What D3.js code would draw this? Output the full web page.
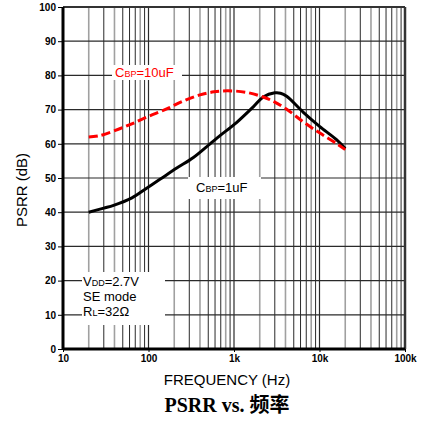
<!DOCTYPE html>
<html><head><meta charset="utf-8">
<script src="https://cdn.jsdelivr.net/npm/d3@7"></script>
<style>body{margin:0;background:#fff}svg{display:block}</style>
</head><body>
<svg id="c" width="428" height="429"></svg>
<script>
// Data
const freq10uF = [20, 27, 46, 66, 100, 163, 250, 400, 583, 850, 1430, 2240, 3000, 4130, 6470, 10000, 15800, 20000];
const psrr10uF = [62.0, 62.4, 64.4, 66.0, 68.0, 70.2, 72.4, 74.3, 75.2, 75.5, 75.0, 73.6, 72.2, 70.1, 66.4, 63.2, 60.1, 58.3];
const freq1uF = [20, 30, 39, 64, 95, 136, 214, 335, 525, 686, 1070, 1680, 2200, 3000, 3500, 4130, 6470, 10000, 15800, 20000];
const psrr1uF = [40.0, 41.2, 42.0, 44.2, 47.0, 49.6, 52.9, 56.0, 60.0, 62.4, 66.2, 70.8, 73.7, 74.9, 74.8, 73.9, 69.2, 65.1, 61.2, 58.6];
const yTicks = [0, 10, 20, 30, 40, 50, 60, 70, 80, 90, 100];
const xTicks = [10, 100, 1000, 10000, 100000];
const xTickLabels = ["10", "100", "1k", "10k", "100k"];

const svg = d3.select("#c");
const L = 63, R = 405, T = 7, B = 349;
const x = d3.scaleLog().domain([10, 100000]).range([L, R]);
const y = d3.scaleLinear().domain([0, 100]).range([B, T]);

// minor grid
const minors = [];
for (let d = 10; d < 100000; d *= 10) for (let m = 2; m <= 9; m++) minors.push({f: d * m, m});
const grid = svg.append("g");
const isGray = m => m === 2 || m === 4 || m === 8;
grid.selectAll(".vmin").data(minors).join("line")
  .attr("x1", d => x(d.f)).attr("x2", d => x(d.f)).attr("y1", T).attr("y2", B)
  .attr("stroke", d => isGray(d.m) ? "#a0a0a0" : "#2a2a2a")
  .attr("stroke-width", d => isGray(d.m) ? 1.6 : 1);
grid.selectAll(".vmaj").data(xTicks).join("line")
  .attr("x1", d => x(d)).attr("x2", d => x(d)).attr("y1", T).attr("y2", B)
  .attr("stroke", "#2a2a2a").attr("stroke-width", 1.2);
grid.selectAll(".h").data(yTicks).join("line")
  .attr("x1", L).attr("x2", R).attr("y1", d => y(d)).attr("y2", d => y(d))
  .attr("stroke", "#2a2a2a").attr("stroke-width", 1.2);

// frame
svg.append("line").attr("x1", L).attr("x2", R).attr("y1", T).attr("y2", T).attr("stroke", "#333").attr("stroke-width", 2);
svg.append("line").attr("x1", R).attr("x2", R).attr("y1", T).attr("y2", B).attr("stroke", "#333").attr("stroke-width", 2.5);

// white label boxes
const boxes = [[112, 65, 70, 15], [188, 177, 73, 22], [82, 272, 83, 53]];
svg.selectAll(".box").data(boxes).join("rect")
  .attr("x", d => d[0]).attr("y", d => d[1]).attr("width", d => d[2]).attr("height", d => d[3])
  .attr("fill", "#fff");

// axes
const yAxis = svg.append("g").attr("transform", `translate(${L},0)`)
  .call(d3.axisLeft(y).tickValues(yTicks).tickSize(5).tickPadding(2));
const xAxis = svg.append("g").attr("transform", `translate(0,${B})`)
  .call(d3.axisBottom(x).tickValues(xTicks).tickFormat((d, i) => xTickLabels[i]).tickSize(3).tickPadding(3));
[yAxis, xAxis].forEach(a => {
  a.select(".domain").attr("stroke", "#000").attr("stroke-width", 3);
  a.selectAll(".tick line").attr("stroke", "#000");
  a.selectAll("text").attr("font-family", "Liberation Sans, Arial, sans-serif")
    .attr("font-weight", "bold").attr("font-size", 10).attr("fill", "#000");
});
xAxis.select(".domain").attr("d", `M${L},0H${R}`);
yAxis.select(".domain").attr("d", `M0,${B}V${T}`);

// curves
const line = d3.line().x(d => x(d[0])).y(d => y(d[1])).curve(d3.curveCatmullRom.alpha(0.5));
svg.append("path").datum(freq1uF.map((f, i) => [f, psrr1uF[i]]))
  .attr("d", line).attr("fill", "none").attr("stroke", "#000").attr("stroke-width", 3);
svg.append("path").datum(freq10uF.map((f, i) => [f, psrr10uF[i]]))
  .attr("d", line).attr("fill", "none").attr("stroke", "#ff0000").attr("stroke-width", 3)
  .attr("stroke-dasharray", "9,4");

const font = "Liberation Sans, Arial, sans-serif";
function sublabel(xp, yp, main, sub, rest, color) {
  const t = svg.append("text").attr("x", xp).attr("y", yp).attr("font-family", font)
    .attr("font-size", 13).attr("fill", color);
  t.append("tspan").text(main);
  t.append("tspan").attr("font-size", 9).text(sub);
  t.append("tspan").text(rest);
}
sublabel(115, 77, "C", "BP", "=10uF", "#ff0000");
sublabel(196, 192, "C", "BP", "=1uF", "#000");
sublabel(83, 286, "V", "DD", "=2.7V", "#000");
svg.append("text").attr("x", 83).attr("y", 301).attr("font-family", font).attr("font-size", 13).text("SE mode");
sublabel(83, 316, "R", "L", "=32Ω", "#000");

// axis titles
svg.append("text").attr("x", 227).attr("y", 385).attr("text-anchor", "middle")
  .attr("font-family", font).attr("font-size", 15).text("FREQUENCY (Hz)");
svg.append("text").attr("transform", "translate(27,190) rotate(-90)").attr("text-anchor", "middle")
  .attr("font-family", font).attr("font-size", 15).text("PSRR (dB)");
const tt = svg.append("text").attr("x", 227).attr("y", 412).attr("text-anchor", "middle")
  .attr("font-size", 20).attr("font-weight", "bold");
tt.append("tspan").attr("font-family", "Liberation Serif, Times New Roman, serif").text("PSRR vs. ");
tt.append("tspan").attr("font-family", "Noto Sans CJK SC, sans-serif").text("频率");
</script>
</body></html>
